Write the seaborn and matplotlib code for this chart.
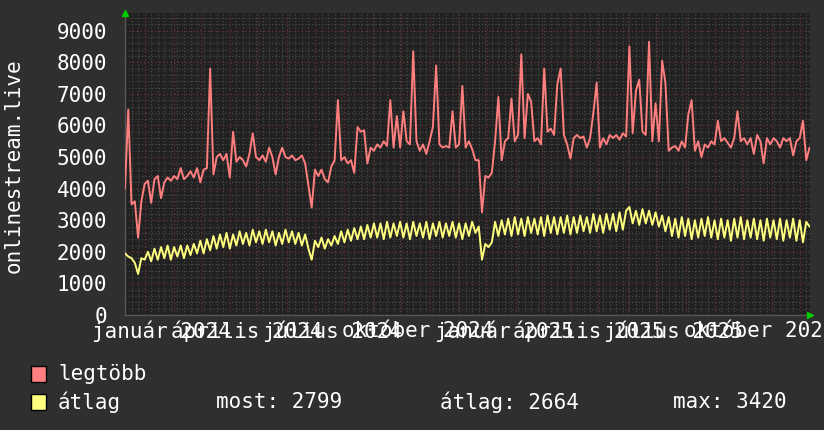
import numpy as np
import pandas as pd
import matplotlib
matplotlib.use("Agg")
import matplotlib.pyplot as plt
import matplotlib.dates as mdates
from matplotlib.patches import Rectangle
from matplotlib.transforms import ScaledTranslation
import seaborn as sns

# ---------------- data ----------------
start_date = "2023-12-11"
step = "84h"   # one sample every 3.5 days

legtobb = [
    4000, 6500, 3500, 3600, 2450, 3600, 4150, 4250, 3550, 4300,
    4400, 3700, 4200, 4350, 4250, 4400, 4300, 4650, 4300, 4400,
    4550, 4350, 4650, 4200, 4600, 4650, 7800, 4450, 5000, 5100,
    4900, 5100, 4350, 5800, 4850, 5000, 4900, 4700, 5100, 5750,
    5000, 4900, 5050, 4850, 5300, 5000, 4450, 5000, 5300, 5000,
    4950, 5050, 4900, 4950, 5050, 4800, 4100, 3400, 4600, 4400,
    4600, 4300, 4200, 4700, 4900, 6800, 4900, 5000, 4800, 4900,
    4500, 5950, 5800, 5850, 4800, 5300, 5200, 5400, 5300, 5500,
    5350, 6800, 5300, 6300, 5300, 6450, 5500, 5400, 8350, 5500,
    5200, 5400, 5100, 5500, 5950, 7900, 5400, 5300, 5350, 5300,
    6450, 5300, 5400, 7250, 5300, 5500, 5250, 4900, 4900, 3250,
    4400, 4350, 4500, 5500, 6900, 4900, 5500, 5600, 6850, 5500,
    5700, 8250, 5600, 7000, 6750, 5500, 5600, 5400, 7800, 5800,
    5900, 5700, 7300, 7800, 5700, 5400, 4950, 5600, 5700, 5600,
    5650, 5300, 5600, 6400, 7350, 5300, 5600, 5400, 5700, 5600,
    5700, 5550, 5750, 5650, 8500, 5750, 7100, 7450, 5800, 5700,
    8650, 5500, 6700, 5500, 8050, 7350, 5200, 5300, 5350, 5200,
    5500, 5300, 6350, 6800, 5200, 5500, 5000, 5400, 5300, 5500,
    5400, 6150, 5500, 5600, 5450, 5300, 5600, 6450, 5500, 5600,
    5400, 5600, 5100, 5700, 5500, 4800, 5600, 5400, 5600, 5500,
    5300, 5600, 5500, 5600, 5050, 5500, 5600, 6150, 4900, 5300,
]

atlag = [
    1950, 1850, 1800, 1650, 1300, 1800, 1750, 2000, 1700, 2100,
    1750, 2150, 1800, 2200, 1750, 2150, 1850, 2200, 1800, 2200,
    1900, 2250, 1950, 2350, 1950, 2400, 2050, 2500, 2100, 2550,
    2150, 2600, 2100, 2550, 2200, 2650, 2250, 2600, 2200, 2700,
    2300, 2650, 2250, 2700, 2300, 2650, 2200, 2600, 2250, 2700,
    2300, 2650, 2250, 2600, 2200, 2550, 2100, 1750, 2350, 2150,
    2450, 2100, 2400, 2200, 2500, 2250, 2650, 2300, 2700, 2350,
    2750, 2400, 2800, 2400, 2850, 2450, 2900, 2450, 2900, 2400,
    2950, 2450, 2900, 2500, 2950, 2450, 2900, 2400, 2950, 2500,
    2900, 2450, 2950, 2400, 2900, 2500, 2950, 2450, 2900, 2500,
    2950, 2450, 2900, 2400, 2900, 2500, 2950, 2600, 2800, 1750,
    2250, 2150, 2300, 2950, 2500, 3000, 2550, 3050, 2500, 3100,
    2550, 3050, 2500, 3100, 2600, 3050, 2550, 3100, 2500, 3150,
    2600, 3100, 2550, 3100, 2600, 3150, 2550, 3100, 2600, 3150,
    2650, 3100, 2600, 3200, 2650, 3150, 2600, 3200, 2700, 3200,
    2650, 3250, 2700, 3300, 3420, 2900, 3300, 2850, 3350, 2900,
    3300, 2850, 3250, 2800, 3150, 2650, 3100, 2500, 3050, 2450,
    3100, 2500, 3050, 2400, 3000, 2450, 3050, 2500, 3100, 2450,
    3000, 2400, 3050, 2450, 3000, 2350, 3050, 2450, 3100, 2400,
    3000, 2450, 3050, 2400, 3000, 2350, 3050, 2450, 3000, 2400,
    3050, 2350, 3000, 2450, 3050, 2350, 3000, 2300, 2950, 2799,
]

series_names = ["legtöbb", "átlag"]
series_colors = ["#ff7f7f", "#ffff7f"]

quarter_dates = ["2024-01-01", "2024-04-01", "2024-07-01", "2024-10-01",
                 "2025-01-01", "2025-04-01", "2025-07-01", "2025-10-01"]
quarter_labels = ["január 2024", "április 2024", "július 2024", "október 2024",
                  "január 2025", "április 2025", "július 2025", "október 2025"]
y_ticks = [0, 1000, 2000, 3000, 4000, 5000, 6000, 7000, 8000, 9000]
y_label = "onlinestream.live"
stats_labels = ["most: 2799", "átlag: 2664", "max: 3420"]

# ---------------- figure ----------------
W, H, DPI = 824, 430, 100
BG = "#2f2f2f"
PLOT_BG = "#212121"
MAJOR = "#6a3232"
MINOR = "#4e4e4e"
TXT = "#ffffff"
MONO = "DejaVu Sans Mono"
FS = 15

sns.set_style("dark")
plt.rcParams["font.family"] = [MONO, "DejaVu Sans"]

n = len(legtobb)
dates = pd.date_range(start_date, periods=n, freq=step)
df = pd.DataFrame({
    "date": list(dates) + list(dates),
    "value": legtobb + atlag,
    "series": [series_names[0]] * n + [series_names[1]] * n,
})

fig = plt.figure(figsize=(W / DPI, H / DPI), dpi=DPI, facecolor=BG)
ax = fig.add_axes([125 / W, 1 - 315 / H, 685 / W, 302 / H])
ax.set_facecolor(PLOT_BG)

sns.lineplot(data=df, x="date", y="value", hue="series",
             palette=dict(zip(series_names, series_colors)),
             linewidth=1.4, ax=ax, legend=False, zorder=3)

ax.set_xlim(pd.Timestamp("2023-12-11"), pd.Timestamp("2025-12-12"))
ax.set_ylim(0, 9560)

ax.xaxis.set_major_locator(mdates.MonthLocator())
ax.xaxis.set_minor_locator(mdates.WeekdayLocator(byweekday=mdates.MO))
ax.set_yticks(y_ticks)
ax.yaxis.set_minor_locator(matplotlib.ticker.MultipleLocator(200))

ax.grid(which="minor", color=MINOR, linestyle=(0, (1, 2)), linewidth=0.8)
ax.grid(which="major", color=MAJOR, linestyle=(0, (1, 2)), linewidth=0.9)
ax.set_axisbelow(True)

ax.tick_params(axis="x", which="both", length=0, labelbottom=False)
ax.tick_params(axis="y", which="both", length=0, labelsize=FS,
               labelcolor=TXT, pad=13)
for lab in ax.get_yticklabels():
    lab.set_family(MONO)

ax.set_xlabel("")
ax.set_ylabel("")
for s in ["top", "right"]:
    ax.spines[s].set_visible(False)
for s in ["left", "bottom"]:
    ax.spines[s].set_color("#555555")
    ax.spines[s].set_linewidth(1.0)

# x labels (overlapping, like the original)
trans = ax.get_xaxis_transform() + ScaledTranslation(17 / DPI, -16 / DPI, fig.dpi_scale_trans)
for d, lab in zip(quarter_dates, quarter_labels):
    ax.text(mdates.date2num(pd.Timestamp(d)), 0, lab, transform=trans,
            ha="center", va="center", color=TXT, fontsize=FS, family=MONO,
            clip_on=False)

# axis arrows
ax.plot([0], [1.0], marker="^", color="#00cc00", markersize=5,
        transform=ax.transAxes, clip_on=False, zorder=5)
ax.plot([1.0], [0], marker=">", color="#00cc00", markersize=5,
        transform=ax.transAxes, clip_on=False, zorder=5)

# y axis title
fig.text(14 / W, 1 - 166 / H, y_label, rotation=90, ha="center", va="center",
         color=TXT, fontsize=FS, family=MONO)

# legend
rows_y = [374, 402]
for name, col, yy in zip(series_names, series_colors, rows_y):
    fig.patches.append(Rectangle((31 / W, 1 - (yy + 8) / H), 15 / W, 16 / H,
                                 transform=fig.transFigure, facecolor=col,
                                 edgecolor="#000000", linewidth=1.0))
    fig.text(58 / W, 1 - yy / H, name, ha="left", va="center",
             color=TXT, fontsize=FS, family=MONO)
for txt, xx in zip(stats_labels, [216, 440, 673]):
    fig.text(xx / W, 1 - rows_y[1] / H, txt, ha="left", va="center",
             color=TXT, fontsize=FS, family=MONO)

fig.savefig("out.png", dpi=DPI, facecolor=BG)
